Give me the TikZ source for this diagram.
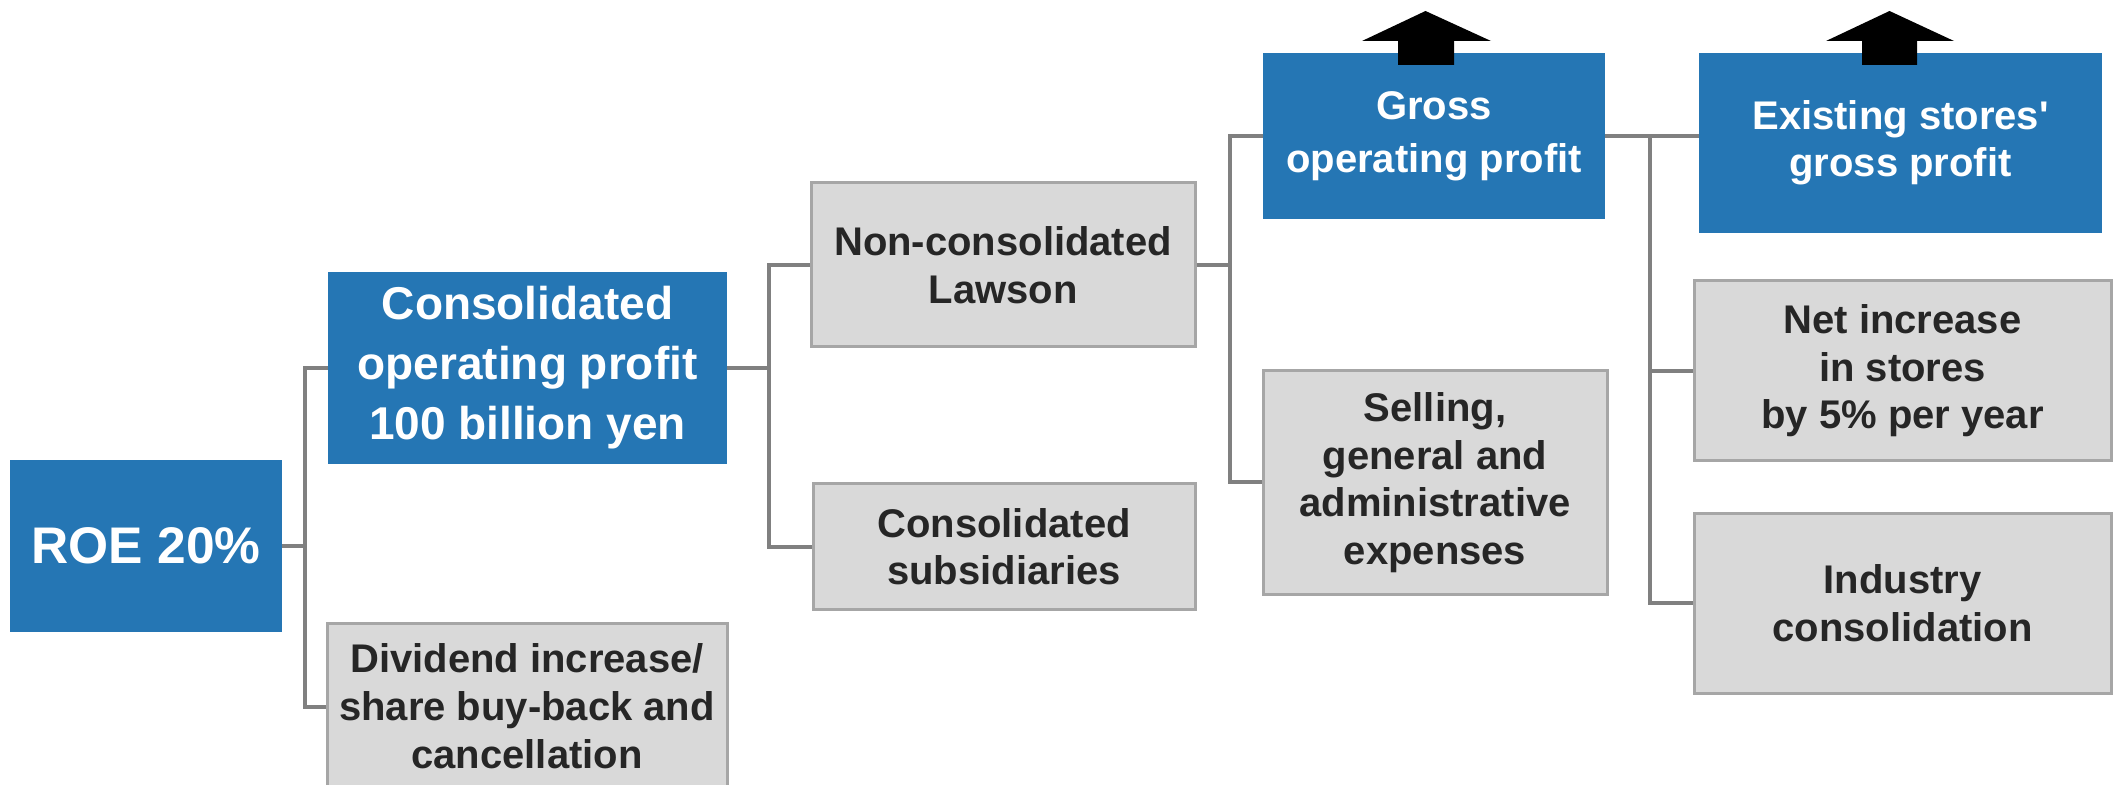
\documentclass[tikz,border=0pt]{standalone}
\usepackage{fontspec}
\setmainfont{Liberation Sans}
\definecolor{blu}{RGB}{37,118,180}
\definecolor{gfill}{RGB}{217,217,217}
\definecolor{gline}{RGB}{166,166,166}
\definecolor{connc}{RGB}{128,128,128}
\definecolor{gtext}{RGB}{38,38,38}
\begin{document}
\begin{tikzpicture}[x=0.5pt,y=-0.5pt,
  bluebox/.style={fill=blu, text=white, align=center, inner sep=0pt},
  greybox/.style={fill=gfill, draw=gline, line width=1.5pt, text=gtext, align=center, inner sep=0pt,
     font=\bfseries\fontsize{20pt}{23.75pt}\selectfont},
  connline/.style={draw=connc, line width=2pt},
  uparrow/.style={fill=black}]
\useasboundingbox (0,0) rectangle (2118,785);
\clip (0,0) rectangle (2118,785);
% nodes
\node[bluebox, minimum width=136pt, minimum height=86pt,
  font=\bfseries\fontsize{25.75pt}{30pt}\selectfont] (roe) at (146,546) {ROE 20\%};
\node[bluebox, minimum width=199.5pt, minimum height=96pt,
  font=\bfseries\fontsize{23pt}{30pt}\selectfont] (cop) at (527.5,368)
  {Consolidated\\operating profit\\100 billion yen};
\node[greybox, minimum width=200pt, minimum height=83.5pt,
  font=\bfseries\fontsize{20pt}{24pt}\selectfont] (div) at (527,706.5)
  {Dividend increase/\\share buy-back and\\cancellation};
\node[greybox, minimum width=192pt, minimum height=82pt] (law) at (1003,265)
  {Non-consolidated\\Lawson};
\node[greybox, minimum width=191pt, minimum height=62.5pt] (sub) at (1004,546.5)
  {Consolidated\\subsidiaries};
\node[bluebox, minimum width=171pt, minimum height=83pt,
  font=\bfseries\fontsize{20pt}{26.5pt}\selectfont] (gop) at (1434,136)
  {Gross\\operating profit};
\node[greybox, minimum width=172pt, minimum height=111.5pt] (sga) at (1435,482.5)
  {Selling,\\general and\\administrative\\expenses};
\node[bluebox, minimum width=201.5pt, minimum height=90pt,
  font=\bfseries\fontsize{20pt}{23.5pt}\selectfont] (exs) at (1900.5,143)
  {Existing stores\textquotesingle\\gross profit};
\node[greybox, minimum width=208.5pt, minimum height=90pt] (net) at (1902.5,371)
  {Net increase\\in stores\\by 5\% per year};
\node[greybox, minimum width=208.5pt, minimum height=90pt] (ind) at (1902.5,603)
  {Industry\\consolidation};
% connectors
\draw[connline] (roe.east) -- ++(23,0) coordinate (j1);
\draw[connline] (cop.west) -| (j1) |- (div.west);
\draw[connline] (cop.east) -- ++(42,0) coordinate (j2);
\draw[connline] (law.west) -| (j2) |- (sub.west);
\draw[connline] (law.east) -- ++(33,0) coordinate (j3);
\draw[connline] (gop.west) -| (j3) |- (sga.west);
\draw[connline] (gop.east) -- (exs.west |- gop.east);
\path (gop.east) ++(45,0) coordinate (j4);
\draw[connline] (j4) |- (ind.west);
\draw[connline] (j4 |- net.west) -- (net.west);
% up arrows
\fill[uparrow] (1425.5,11) -- (1491,41) -- (1454,41) -- (1454,65) -- (1398,65) -- (1398,41) -- (1362,41) -- cycle;
\fill[uparrow] (1889.5,11) -- (1954,41) -- (1917,41) -- (1917,65) -- (1862,65) -- (1862,41) -- (1826,41) -- cycle;
\end{tikzpicture}
\end{document}
